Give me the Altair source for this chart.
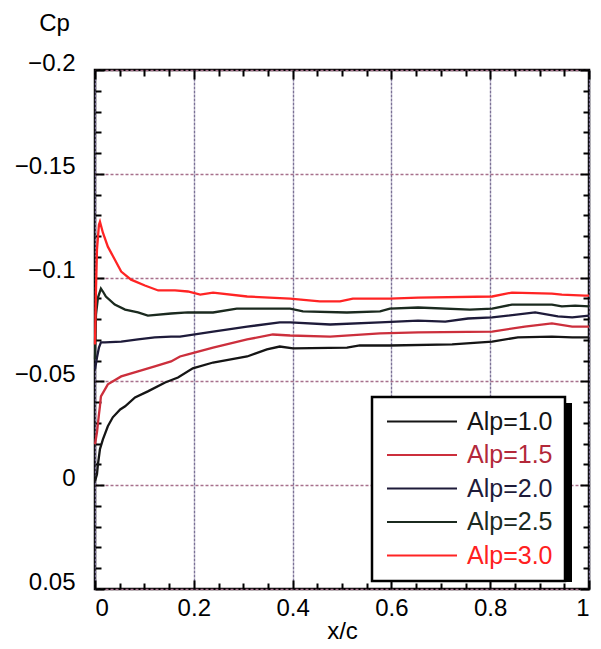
import altair as alt
import pandas as pd

FONT = "Liberation Sans"

series = ["Alp=1.0", "Alp=1.5", "Alp=2.0", "Alp=2.5", "Alp=3.0"]
line_colors = ["#151515", "#cc2f3c", "#1e1b3a", "#1b2a1f", "#ff2424"]

x_10 = [0, 0.004, 0.006, 0.010, 0.016, 0.026, 0.036, 0.051, 0.061, 0.081, 0.107, 0.142,
        0.168, 0.198, 0.239, 0.308, 0.348, 0.374, 0.401, 0.510, 0.536, 0.597, 0.723,
        0.804, 0.856, 0.925, 0.966, 1.0]
cp_10 = [-0.0019, -0.0053, -0.0101, -0.0173, -0.0221, -0.0284, -0.0327, -0.0365, -0.0380,
         -0.0423, -0.0452, -0.0495, -0.0519, -0.0563, -0.0591, -0.0620, -0.0654, -0.0668,
         -0.0659, -0.0663, -0.0673, -0.0673, -0.0678, -0.0692, -0.0712, -0.0716, -0.0712,
         -0.0712]

x_15 = [0, 0.004, 0.008, 0.010, 0.012, 0.026, 0.053, 0.087, 0.121, 0.154, 0.172, 0.188,
        0.239, 0.308, 0.360, 0.395, 0.476, 0.577, 0.654, 0.804, 0.870, 0.925, 0.966, 1.0]
cp_15 = [-0.0197, -0.0255, -0.0341, -0.0380, -0.0428, -0.0486, -0.0524, -0.0548, -0.0572,
         -0.0596, -0.0620, -0.0630, -0.0663, -0.0702, -0.0726, -0.0721, -0.0716, -0.0731,
         -0.0736, -0.0740, -0.0764, -0.0779, -0.0764, -0.0764]

x_20 = [0, 0.004, 0.008, 0.012, 0.020, 0.053, 0.087, 0.121, 0.154, 0.172, 0.239, 0.308,
        0.374, 0.395, 0.476, 0.577, 0.654, 0.709, 0.755, 0.804, 0.891, 0.937, 0.966, 1.0]
cp_20 = [-0.0558, -0.0615, -0.0663, -0.0688, -0.0688, -0.0692, -0.0702, -0.0712, -0.0716,
         -0.0716, -0.0740, -0.0764, -0.0784, -0.0784, -0.0774, -0.0784, -0.0793, -0.0788,
         -0.0803, -0.0808, -0.0832, -0.0813, -0.0808, -0.0817]

x_25 = [0, 0.002, 0.006, 0.012, 0.016, 0.022, 0.040, 0.061, 0.087, 0.107, 0.154, 0.188,
        0.239, 0.287, 0.395, 0.421, 0.510, 0.577, 0.597, 0.654, 0.759, 0.804, 0.844,
        0.925, 0.945, 0.972, 1.0]
cp_25 = [-0.0606, -0.0822, -0.0904, -0.0947, -0.0933, -0.0909, -0.0870, -0.0846, -0.0832,
         -0.0817, -0.0827, -0.0832, -0.0832, -0.0851, -0.0851, -0.0837, -0.0832, -0.0837,
         -0.0851, -0.0856, -0.0846, -0.0851, -0.0870, -0.0870, -0.0861, -0.0865, -0.0861]

x_30 = [0, 0.002, 0.004, 0.008, 0.010, 0.016, 0.026, 0.040, 0.053, 0.073, 0.101, 0.128,
        0.162, 0.188, 0.213, 0.239, 0.308, 0.395, 0.455, 0.496, 0.522, 0.597, 0.654,
        0.804, 0.844, 0.925, 0.945, 0.992, 1.0]
cp_30 = [-0.0678, -0.0942, -0.1135, -0.1255, -0.1269, -0.1216, -0.1149, -0.1087, -0.1029,
         -0.0990, -0.0962, -0.0938, -0.0938, -0.0933, -0.0918, -0.0928, -0.0909, -0.0899,
         -0.0885, -0.0885, -0.0899, -0.0899, -0.0904, -0.0909, -0.0928, -0.0923, -0.0918,
         -0.0913, -0.0913]

x_major = [0, 0.2, 0.4, 0.6, 0.8, 1.0]
x_minor = [0.05, 0.1, 0.15, 0.25, 0.3, 0.35, 0.45, 0.5, 0.55, 0.65, 0.7, 0.75, 0.85, 0.9, 0.95]
y_major = [-0.2, -0.15, -0.1, -0.05, 0, 0.05]
y_minor = [-0.19, -0.18, -0.17, -0.16, -0.14, -0.13, -0.12, -0.11, -0.09, -0.08, -0.07,
           -0.06, -0.04, -0.03, -0.02, -0.01, 0.01, 0.02, 0.03, 0.04]

rows = []
for name, xs_, cs_ in zip(series, [x_10, x_15, x_20, x_25, x_30], [cp_10, cp_15, cp_20, cp_25, cp_30]):
    for i, (a, b) in enumerate(zip(xs_, cs_)):
        rows.append({"series": name, "x": a, "cp": b, "i": i})
df = pd.DataFrame(rows)

xscale = alt.Scale(domain=[0, 1], nice=False, zero=False)
yscale = alt.Scale(domain=[-0.2, 0.05], reverse=True, nice=False, zero=False)

label_expr = ("datum.value === 'Alp=1.5' ? '#b3283a' : datum.value === 'Alp=3.0' ? '#ff2020' : "
              "datum.value === 'Alp=2.0' ? '#1e1b3a' : datum.value === 'Alp=2.5' ? '#1b2a1f' : '#151515'")

lines = alt.Chart(df).mark_line(strokeWidth=2.3).encode(
    x=alt.X("x:Q", scale=xscale, axis=alt.Axis(
        orient="bottom", values=x_major, format="~g", ticks=False, domain=False,
        grid=True, gridColor="#7b7196", gridDash=[3, 1], gridWidth=1.4,
        labelFont=FONT, labelFontSize=24, labelColor="black", labelPadding=7,
        title="x/c", titleFont=FONT, titleFontSize=24, titleFontWeight="normal",
        titleColor="black", titleY=49, titleBaseline="alphabetic")),
    y=alt.Y("cp:Q", scale=yscale, axis=alt.Axis(
        orient="left", values=y_major, format="~g", ticks=False, domain=False,
        grid=True, gridColor="#a7708c", gridDash=[3, 2], gridWidth=1.4,
        labelFont=FONT, labelFontSize=24, labelColor="black", labelPadding=20, labelOffset=-7,
        title="Cp", titleFont=FONT, titleFontSize=24, titleFontWeight="normal", titleColor="black",
        titleAngle=0, titleX=-41, titleY=-40, titleAlign="center", titleBaseline="alphabetic")),
    color=alt.Color("series:N", scale=alt.Scale(domain=series, range=line_colors), legend=alt.Legend(
        orient="none", legendX=277, legendY=327, title=None,
        symbolType="M-3.5,0H3.5", symbolSize=400, symbolStrokeWidth=2, symbolOffset=25.5,
        labelOffset=32.5, labelFont=FONT, labelFontSize=25, labelLimit=300,
        labelColor={"expr": label_expr}, rowPadding=7.5, padding=12,
        strokeColor="black", fillColor="white")),
)


def tick_layer(xorient, yorient, xvals, yvals, size):
    return alt.Chart(df).mark_point(opacity=0).encode(
        x=alt.X("x:Q", scale=xscale, axis=alt.Axis(
            orient=xorient, offset=-size, values=xvals, tickSize=size, tickWidth=2,
            tickColor="black", domain=False, labels=False, grid=False, title=None)),
        y=alt.Y("cp:Q", scale=yscale, axis=alt.Axis(
            orient=yorient, offset=-size, values=yvals, tickSize=size, tickWidth=2,
            tickColor="black", domain=False, labels=False, grid=False, title=None)),
    )


shadow = alt.Chart(pd.DataFrame({"k": [0]})).mark_rect(color="black").encode(
    x=alt.value(283), x2=alt.value(477), y=alt.value(333), y2=alt.value(512))

chart = alt.layer(
    shadow,
    lines,
    tick_layer("bottom", "left", x_major, y_major, 9),
    tick_layer("top", "right", x_major, y_major, 9),
    tick_layer("bottom", "left", x_minor, y_minor, 6),
    tick_layer("top", "right", x_minor, y_minor, 6),
).resolve_axis(x="independent", y="independent").properties(
    width=494, height=519,
    autosize=alt.AutoSizeParams(type="none"),
    padding={"left": 87, "top": 62, "right": 4, "bottom": 58},
    background="white",
).configure_view(stroke="black", strokeWidth=2.5).configure_legend(strokeWidth=2.5)

chart.save("out.html", embed_options={"renderer": "svg", "actions": False})
